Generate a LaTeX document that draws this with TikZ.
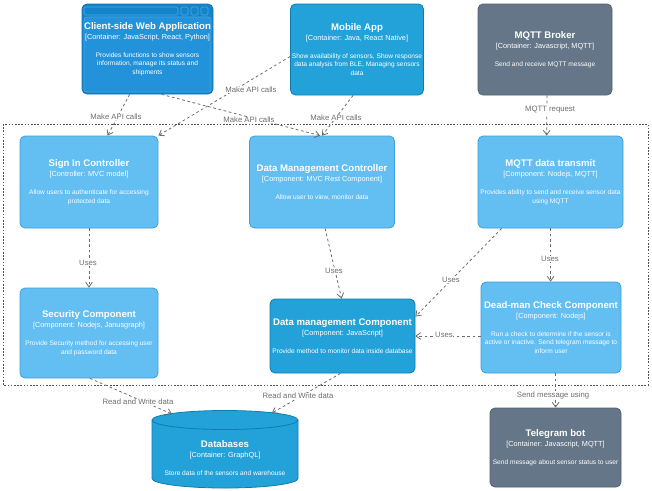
\documentclass[tikz,border=0pt]{standalone}
\usepackage{fontspec}
\setmainfont{Liberation Sans}
\usetikzlibrary{arrows.meta,calc}
\definecolor{compfill}{HTML}{63BEF2}
\definecolor{compdraw}{HTML}{3D9FDD}
\definecolor{contfill}{HTML}{23A2D9}
\definecolor{contdraw}{HTML}{0E7DAD}
\definecolor{webout}{HTML}{1384CA}
\definecolor{webin}{HTML}{2293DA}
\definecolor{webline}{HTML}{4AA6E2}
\definecolor{webdark}{HTML}{0E73B3}
\definecolor{extfill}{HTML}{647687}
\definecolor{extdraw}{HTML}{506272}
\definecolor{linec}{HTML}{6B6B6B}
\definecolor{lblc}{HTML}{6E6E6E}
\definecolor{bndc}{HTML}{505050}
\newcommand{\bxtitle}{\fontsize{7.2pt}{6.4pt}\selectfont\bfseries}
\newcommand{\bxsub}{\fontsize{5.5pt}{6.4pt}\selectfont}
\newcommand{\bxdesc}{\fontsize{4.95pt}{6.4pt}\selectfont}
\newcommand{\dl}[1]{\makebox[0pt]{#1}}
\newcommand{\boxtxt}[3]{{\bxtitle #1}\\[1.1pt]{\bxsub #2}\\[7.1pt]#3}
\tikzset{
  box/.style={rounded corners=3.75pt, align=center, text=white, font=\bxdesc, inner sep=0pt, line width=0.6pt},
  comp/.style={box, fill=compfill, draw=compdraw},
  cont/.style={box, fill=contfill, draw=contdraw},
  ext/.style={box, fill=extfill, draw=extdraw},
  webtxt/.style={box},
  conn/.style={draw=linec, line width=0.6pt, dash pattern=on 2pt off 2pt, -{Straight Barb[length=3.5pt,width=5pt]}},
  lbl/.style={font=\fontsize{5.8pt}{7pt}\selectfont, text=lblc, fill=white, inner sep=0.4pt},
  bnd/.style={draw=bndc, line width=0.7pt, dash pattern=on 1.2pt off 1.2pt},
}
\begin{document}
\begin{tikzpicture}[x=0.75pt,y=-0.75pt]
\useasboundingbox (0,0) rectangle (652,490);
% boundary
\draw[bnd] (3,124) rectangle (648,385);
% web browser container decorations
\draw[fill=webout, draw=webdark, line width=0.6pt, rounded corners=3.75pt] (82,4) rectangle (213,94);
\draw[fill=webout, draw=webline, line width=0.5pt, rounded corners=1.5pt] (84,7) rectangle (178,15);
\draw[fill=webout, draw=webline, line width=0.5pt, rounded corners=1pt] (181,7) rectangle (188,15);
\draw[fill=webout, draw=webline, line width=0.5pt, rounded corners=1pt] (191,7) rectangle (198,15);
\draw[fill=webout, draw=webline, line width=0.5pt, rounded corners=1pt] (201,7) rectangle (208,15);
\draw[fill=webin, draw=webline, line width=0.5pt, rounded corners=2pt] (84,17) rectangle (211,92);
\node[webtxt, minimum width=98.25pt, minimum height=67.5pt] (web) at (147.5,49) {\boxtxt{Client-side Web Application}{[Container: JavaScript, React, Python]}{\dl{Provides functions to show sensors}\\\dl{information, manage its status and}\\shipments}};
\node[cont, minimum width=99.75pt, minimum height=68.25pt] (mobile) at (357,49.5) {\boxtxt{Mobile App}{[Container: Java, React Native]}{\dl{Show availability of sensors, Show response}\\\dl{data analysis from BLE, Managing sensors}\\data}};
\node[ext, minimum width=100.5pt, minimum height=68.25pt] (broker) at (545,49.5) {\boxtxt{MQTT Broker}{[Container: Javascript, MQTT]}{\dl{Send and receive MQTT message}}};
\node[comp, minimum width=103.5pt, minimum height=69pt] (signin) at (89,182) {\boxtxt{Sign In Controller}{[Controller: MVC model]}{\dl{Allow users to authenticate for accessing}\\protected data}};
\node[comp, minimum width=108.75pt, minimum height=69pt] (dmc) at (322,182) {\boxtxt{Data Management Controller}{[Component: MVC Rest Component]}{\dl{Allow user to view, monitor data}}};
\node[comp, minimum width=108.75pt, minimum height=69pt] (transmit) at (550.5,182) {\boxtxt{MQTT data transmit}{[Component: Nodejs, MQTT]}{\dl{Provides ability to send and receive sensor data}\\using MQTT}};
\node[comp, minimum width=103.5pt, minimum height=67.5pt] (security) at (89,333) {\boxtxt{Security Component}{[Component: Nodejs, Janusgraph]}{\dl{Provide Security method for accessing user}\\and password data}};
\node[cont, minimum width=108.75pt, minimum height=55.5pt] (dmcomp) at (342.5,336) {\boxtxt{Data management Component}{[Component: JavaScript]}{\dl{Provide method to monitor data inside database}}};
\node[comp, minimum width=105pt, minimum height=68.25pt] (deadman) at (551,327.5) {\boxtxt{Dead-man Check Component}{[Component: Nodejs]}{\dl{Run a check to determine if the sensor is}\\\dl{active or inactive. Send telegram message to}\\inform user}};
\node[ext, minimum width=98.25pt, minimum height=59.25pt] (telegram) at (555.5,447.5) {\boxtxt{Telegram bot}{[Container: Javascript, MQTT]}{\dl{Send message about sensor status to user}}};
% database cylinder
\draw[fill=contfill, draw=contdraw, line width=0.6pt] (152,420) -- (152,478.5) arc[start angle=180, end angle=360, x radius=54.75pt, y radius=7.125pt] -- (298,420) arc[start angle=0, end angle=180, x radius=54.75pt, y radius=7.125pt] -- cycle;
\draw[draw=contdraw, line width=0.6pt] (152,420) arc[start angle=180, end angle=360, x radius=54.75pt, y radius=7.125pt];
\node[box, minimum width=100pt, minimum height=40pt] (db) at (225,458) {\boxtxt{Databases}{[Container: GraphQL]}{\dl{Store data of the sensors and warehouse}}};
\coordinate (dbA) at (172,414);
\coordinate (dbB) at (272,413);
% connectors
\draw[conn] ($(web.south west)+(48,0)$) -- ($(signin.north west)+(88,0)$);
\draw[conn] ($(web.south west)+(80,0)$) -- ($(dmc.north west)+(71,0)$);
\draw[conn] ($(mobile.west)+(0,7)$) -- (signin.north east);
\draw[conn] ($(mobile.south west)+(63,0)$) -- ($(dmc.north west)+(73,0)$);
\draw[conn] ($(broker.south)+(2,0)$) -- ($(transmit.north west)+(69,0)$);
\draw[conn] (signin.south) -- (security.north);
\draw[conn] ($(dmc.south west)+(76,0)$) -- ($(dmcomp.north west)+(72,0)$);
\draw[conn] ($(transmit.south west)+(24,0)$) -- ($(dmcomp.north east)+(0,18)$);
\draw[conn] ($(transmit.south west)+(73,0)$) -- ($(deadman.north west)+(70,0)$);
\draw[conn] ($(deadman.west)+(0,8.5)$) -- (dmcomp.east);
\draw[conn] ($(security.south)+(1,0)$) -- (dbA);
\draw[conn] ($(dmcomp.south)+(-2,0)$) -- (dbB);
\draw[conn] ($(deadman.south west)+(75,0)$) -- ($(telegram.north west)+(66,0)$);
% labels
\node[lbl] (l1) at (116,117) {Make API calls};
\node[lbl] (l2) at (249,120) {Make API calls};
\node[lbl] (l3) at (251,90) {Make API calls};
\node[lbl] (l4) at (336,118) {Make API calls};
\node[lbl] (l5) at (550,110) {MQTT request};
\node[lbl] (l6) at (88,263) {Uses};
\node[lbl] (l7) at (334,271) {Uses};
\node[lbl] (l8) at (451,280) {Uses};
\node[lbl] (l9) at (550,259) {Uses};
\node[lbl] (l10) at (444,335) {Uses};
\node[lbl] (l11) at (138,402) {Read and Write data};
\node[lbl] (l12) at (298,396) {Read and Write data};
\node[lbl] (l13) at (553,395) {Send message using};
\end{tikzpicture}
\end{document}
